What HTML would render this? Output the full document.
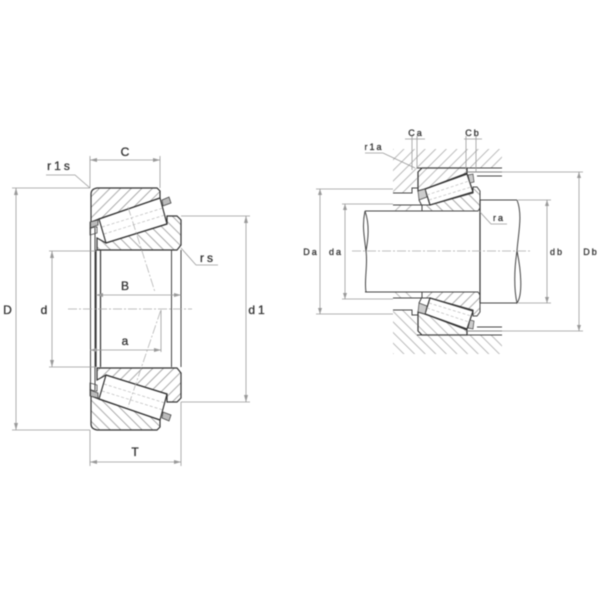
<!DOCTYPE html>
<html><head><meta charset="utf-8"><style>
html,body{margin:0;padding:0;background:#fff}
svg{display:block;filter:blur(.4px)}
text{font-family:"Liberation Sans",sans-serif;fill:#333;stroke:#333;stroke-width:.3;text-anchor:middle}
.k{fill:none;stroke:#444;stroke-width:1}
.b{fill:none;stroke:#333;stroke-width:1.200}
.d{fill:none;stroke:#999;stroke-width:.8}
.c{fill:none;stroke:#aaa;stroke-width:.7;stroke-dasharray:9 2 2 2}
.h{fill:none;stroke:#bbb;stroke-width:.7;stroke-dasharray:3 2}
</style></head><body>
<svg width="600" height="600" viewBox="0 0 600 600" xmlns="http://www.w3.org/2000/svg">
<defs>
<pattern id="f" width="7.500" height="7.500" patternUnits="userSpaceOnUse" patternTransform="rotate(45)"><line x1="0" y1="1" x2="7.500" y2="1" stroke="#aaa" stroke-width="1"/></pattern>
<pattern id="r" width="7.500" height="7.500" patternUnits="userSpaceOnUse" patternTransform="rotate(-45)"><line x1="0" y1="1" x2="7.500" y2="1" stroke="#aaa" stroke-width="1"/></pattern>
<pattern id="m" width="7.500" height="7.500" patternUnits="userSpaceOnUse" patternTransform="rotate(-45)"><line x1="0" y1="1" x2="7.500" y2="1" stroke="#bbb" stroke-width="1"/></pattern>
<pattern id="g" width="7.500" height="7.500" patternUnits="userSpaceOnUse" patternTransform="rotate(45)"><line x1="0" y1="1" x2="7.500" y2="1" stroke="#aaa" stroke-width="1"/></pattern>

<g id="lb">
<path d="M97 188H157L160 191V198L99 219L91 222V194Q91 189 97 188Z" fill="url(#r)"/>
<path d="M97 188H157L160 191V198L99 219L91 222V194Q91 189 97 188Z" class="b"/>
<path d="M97 238L106 243L167 224V216H177L181 220V245L177 250H97Z" fill="url(#f)"/>
<path d="M97 238L106 243L167 224V216H177L181 220V245L177 250H97Z" class="b"/>
<path d="M99 219L160 198L167 224L106 243Z" fill="#fff" class="b"/>
<path d="M102 227L163 208M104 234L165 215" class="h"/>
<path d="M162 200L169 197L171 203L163 206Z" fill="#bbb" stroke="#444" stroke-width=".8"/>
<path d="M90 222L98 220V225L90 228Z" fill="#bbb" stroke="#444" stroke-width=".8"/>
<path d="M90 228L97 227V233L90 235Z" fill="url(#r)" stroke="#444" stroke-width=".8"/>
</g>

<g id="rb">
<path d="M393 149H502V168H417V188H412V193H393Z" fill="url(#m)"/>
<path d="M418 172L422 168H467V173L425 189L418 191Z" fill="url(#m)"/>
<path d="M418 172L422 168H467V173L425 189L418 191Z" class="b"/>
<path d="M422 205L430 205L473 193V187H477L480 191V208L478 211H422Z" fill="url(#g)"/>
<path d="M422 205L430 205L473 193V187H477L480 191V208L478 211H422Z" class="k"/>
<path d="M425 189L467 174L473 192L430 205Z" fill="#fff" class="b"/>
<path d="M427 195L469 181M429 200L471 187" class="h"/>
<path d="M418 191L425 189L427 197L419 200Z" fill="#ccc" stroke="#444" stroke-width=".7"/>
<path d="M468 175L473 174L474 182L470 183Z" fill="#ccc" stroke="#444" stroke-width=".7"/>
<path d="M419 200L422 206V211" class="k"/>
<path d="M417 168H502" class="k"/>
<path d="M393 193H412V188H418" class="k"/>
<path d="M393 205H420L408 211H393Z" fill="url(#m)"/>
<path d="M393 205H422" class="k" stroke="#777"/>
<path d="M467 172H502M477 176H502" class="k" stroke="#777"/>
</g>
</defs>

<!-- left figure -->
<use href="#lb"/>
<use href="#lb" transform="matrix(1 0 0 -1 0 618)"/>
<path d="M96 250V367M100.500 250V367" class="b"/>
<path d="M90.500 222V396" class="k" stroke-width=".8"/>
<path d="M95 228V390" class="k" stroke-width=".6"/>
<path d="M171.500 250V367M181 250V367" class="k"/>
<path d="M68 309H192" class="c"/>
<path d="M128 207L155 292M160.500 311L128 407" class="c"/>
<path d="M16 188V430M12 188H90M12 430H90M52 251V367M49 251H96M49 367H96M246 216V402M181 216H250M181 402H250M90 160H160M90 156V188M160 156V188M90 462H181M90 430V466M181 402V466M96 295H181M90 350H161M161 310V352" class="d"/>
<path d="M46 175H75L90 188M181 248L196 265H218" class="d"/>
<path d="M16 188l-2 7h4zM16 430l-2 -7h4zM52 251l-2 7h4zM52 367l-2 -7h4zM246 216l-2 7h4zM246 402l-2 -7h4zM90 160l7 -2v4zM160 160l-7 -2v4zM90 462l7 -2v4zM181 462l-7 -2v4zM181 295l-7 -2v4zM96 295l7 -2v4zM90 350l7 -2v4zM161 350l-7 -2v4z" fill="#999"/>

<g font-size="12">
<text x="125" y="156">C</text>
<text x="60" y="170" letter-spacing="3">r1s</text>
<text x="208" y="262" letter-spacing="3">rs</text>
<text x="125" y="290">B</text>
<text x="125" y="345">a</text>
<text x="7.500" y="314">D</text>
<text x="44" y="314">d</text>
<text x="258" y="314" letter-spacing="3">d1</text>
<text x="135" y="456">T</text>
</g>

<!-- right figure -->
<use href="#rb"/>
<use href="#rb" transform="matrix(1 0 0 -1 0 503)"/>
<path d="M365 211H422M365 292H422" class="k" stroke-width="1.200"/>
<path d="M480 200H517M480 303H517" class="k"/>
<path d="M480 200V303" class="b" stroke-width="1.400"/>
<path d="M365 211C362 225 364 235 366 251C368 265 364 280 366 292" class="k"/>
<path d="M365 211C370 225 368 240 366 251" class="k"/>
<path d="M517 200C523 215 518 235 517 251C514 270 514 290 517 303C523 295 521 270 517 251" class="k"/>
<path d="M352 251H530" class="c"/>
<path d="M320 189V314M316 189H393M316 314H393M345 204V299M342 204H393M342 299H393M579 172V331M467 172H583M467 331H583M547 200V303M518 200H551M518 303H551M405 139H425M464 139H482M412 136V170M417 136V168M466 136V170M476 136V172" class="d"/>
<path d="M365 153H383L415 168M480 212L491 224H507" class="d"/>
<path d="M320 189l-2 6h4zM320 314l-2 -6h4zM345 204l-2 6h4zM345 299l-2 -6h4zM579 172l-2 6h4zM579 331l-2 -6h4zM547 200l-2 6h4zM547 303l-2 -6h4z" fill="#999"/>
<g font-size="9" letter-spacing="2">
<text x="311" y="255">Da</text>
<text x="336" y="255">da</text>
<text x="557" y="255">db</text>
<text x="591" y="255">Db</text>
<text x="374" y="150">r1a</text>
<text x="416" y="136">Ca</text>
<text x="473" y="136">Cb</text>
<text x="499" y="221">ra</text>
</g>
</svg>
</body></html>
